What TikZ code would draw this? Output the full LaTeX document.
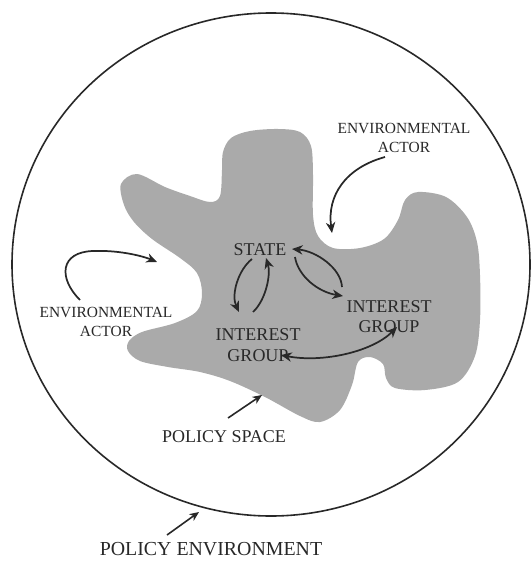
\documentclass[tikz,border=0pt]{standalone}
\usepackage{fontspec}
\setmainfont{Liberation Serif}
\usetikzlibrary{arrows.meta}
\definecolor{blobgray}{RGB}{170,170,170}
\definecolor{ink}{RGB}{40,40,40}
\begin{document}
\begin{tikzpicture}[x=0.75pt,y=-0.75pt,
  lbl/.style={text=ink,inner sep=0pt,align=center,font=\fontsize{13.5}{15.5}\selectfont},
  envlbl/.style={text=ink,inner sep=0pt,align=center,font=\fontsize{11.6}{14.5}\selectfont},
  conn/.style={draw=ink,line width=1.3pt,-{Stealth[length=8pt,width=7pt,inset=2.5pt]}},
  dconn/.style={draw=ink,line width=1.3pt,{Stealth[length=8pt,width=7pt,inset=2.5pt]}-{Stealth[length=8pt,width=7pt,inset=2.5pt]}},
  pointer/.style={draw=ink,line width=1.2pt,-{Stealth[length=7pt,width=6pt,inset=2pt]}}]
\useasboundingbox (0,0) rectangle (531,563);
% policy environment
\draw[ink,line width=1.2pt] (271,264.5) ellipse [x radius=259, y radius=251.5];
% policy space blob
\fill[blobgray] plot[smooth cycle,tension=0.55] coordinates {
 (121,184) (137,174) (165,187) (190,196) (210,202) (220,196) (222,170) (223,152)
 (231,138) (250,131) (278,129) (300,132) (311,146) (313,175) (313,215) (318,236)
 (333,248) (360,248) (384,239) (398,220) (405,200) (418,192) (446,197) (467,217)
 (477,242) (480,275) (480,320) (475,356) (458,382) (425,390) (395,388) (386,378)
 (383,364) (370,357) (358,362) (352,385) (340,410) (320,422) (300,416) (265,397)
 (230,381) (200,372) (168,367) (140,361) (128,351) (129,341) (142,332) (175,323)
 (197,311) (202,293) (197,273) (180,258) (152,239) (134,222) (124,205)};
% labels
\node[lbl] (state) at (260,250) {STATE};
\node[lbl] (igr) at (389,316.5) {INTEREST\\GROUP};
\node[lbl] (igl) at (258,345) {INTEREST\\GROUP};
\node[envlbl] (ea1) at (404,138) {ENVIRONMENTAL\\ACTOR};
\node[envlbl] (ea2) at (106,322) {ENVIRONMENTAL\\ACTOR};
\node[lbl] (ps) at (224,437) {POLICY SPACE};
\node[lbl,font=\fontsize{14.9}{16}\selectfont] (pe) at (211,549) {POLICY ENVIRONMENT};
% connector end points
\coordinate (s1) at (252,259);
\coordinate (l1) at (239,312);
\coordinate (l2) at (253,312);
\coordinate (s2) at (266,258);
\coordinate (r1) at (342,287);
\coordinate (s3) at (292,249);
\coordinate (s4) at (295,257);
\coordinate (r2) at (343,296);
\coordinate (l3) at (281,355);
\coordinate (r3) at (397,327);
\coordinate (e1) at (385,157);
\coordinate (e1t) at (332,233);
\coordinate (e2) at (80,300);
\coordinate (e2m) at (93,251);
\coordinate (e2t) at (157,262);
\coordinate (p1) at (228,418);
\coordinate (p1t) at (262,395);
\coordinate (p2) at (167,535);
\coordinate (p2t) at (199,512);
% interactions
\draw[conn] (s1) .. controls (238,270) and (231,295) .. (l1);
\draw[conn] (l2) .. controls (266,300) and (271,274) .. (s2);
\draw[conn] (r1) .. controls (341,268) and (316,251) .. (s3);
\draw[conn] (s4) .. controls (298,276) and (318,292) .. (r2);
\draw[dconn] (l3) .. controls (322,363) and (372,352) .. (r3);
% environmental actors
\draw[conn] (e1) .. controls (345,168) and (327,196) .. (e1t);
\draw[conn] (e2) .. controls (58,278) and (60,252) .. (e2m) .. controls (116,250) and (140,255) .. (e2t);
% pointers
\draw[pointer] (p1) -- (p1t);
\draw[pointer] (p2) -- (p2t);
\end{tikzpicture}
\end{document}
